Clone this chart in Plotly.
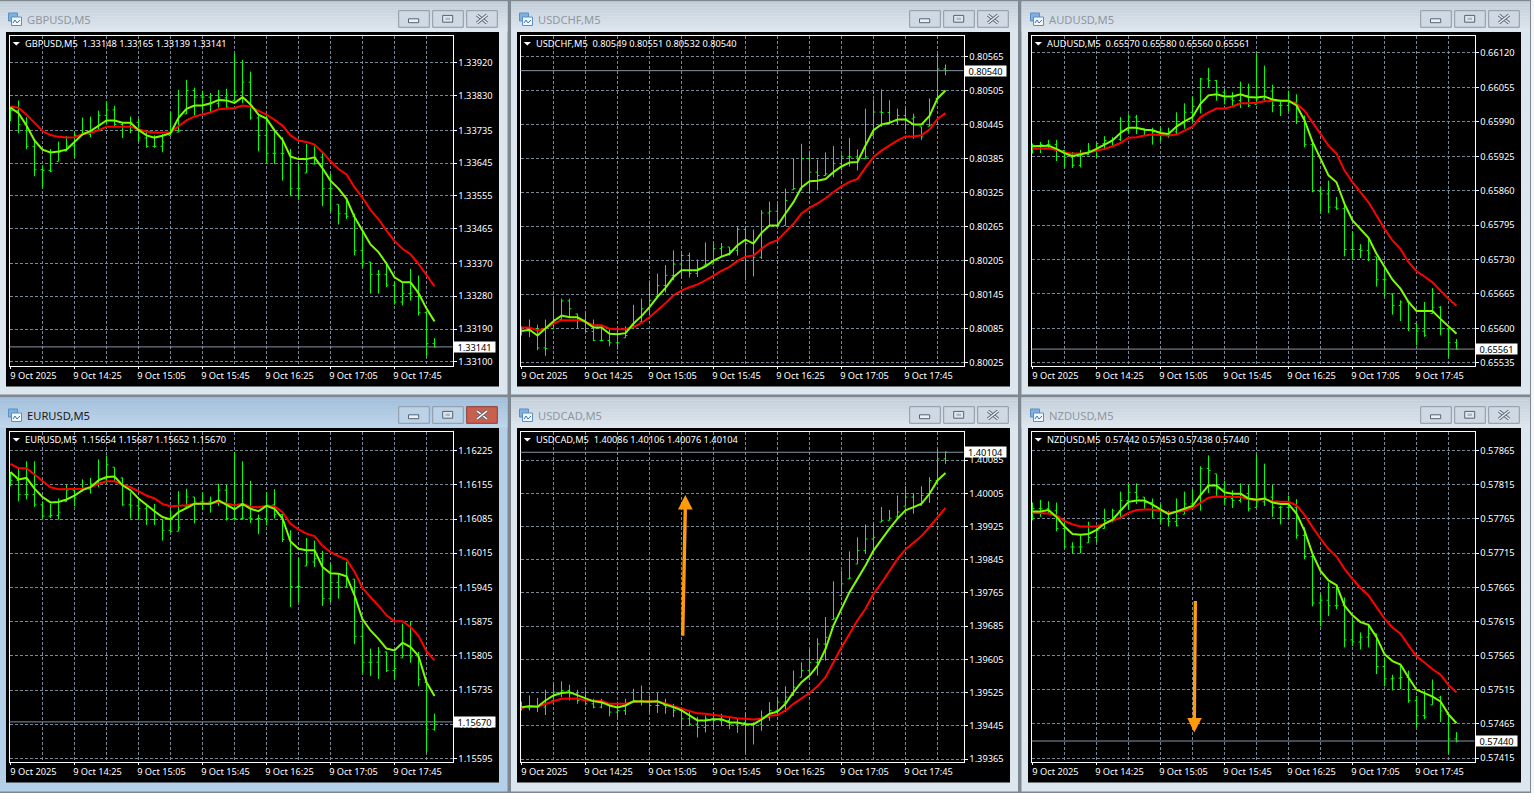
import plotly.graph_objects as go

# ---------- data: prices as 1e-5 units above each pair's base ----------
x_index = list(range(54))
x_tick_index = [0, 8, 16, 24, 32, 40, 48]
x_grid_index = [4, 12, 20, 28, 36, 44, 52]
x_tick_text = ["9 Oct 2025", "9 Oct 14:25", "9 Oct 15:05", "9 Oct 15:45", "9 Oct 16:25", "9 Oct 17:05", "9 Oct 17:45"]

gbp_fast = [33797,33782,33748,33707,33682,33674,33677,33682,33703,33724,33733,33748,33762,33762,33756,33756,33736,33721,33715,33720,33727,33769,33794,33803,33803,33809,33818,33817,33810,33826,33806,33778,33767,33735,33709,33663,33656,33656,33661,33631,33597,33575,33547,33497,33460,33422,33401,33369,33332,33318,33318,33289,33246,33211]
gbp_slow = [33800,33797,33778,33755,33733,33722,33717,33715,33716,33724,33728,33735,33745,33745,33745,33745,33738,33732,33729,33729,33729,33746,33762,33773,33778,33784,33793,33795,33796,33803,33800,33788,33778,33764,33748,33721,33707,33703,33696,33675,33650,33629,33614,33579,33550,33517,33491,33460,33431,33410,33395,33369,33337,33307]
gbp_high = [33800,33817,33771,33707,33639,33684,33704,33719,33730,33770,33773,33789,33813,33802,33757,33773,33767,33730,33721,33725,33785,33846,33873,33852,33844,33837,33846,33849,33945,33928,33896,33776,33776,33735,33716,33684,33643,33698,33691,33675,33616,33532,33547,33506,33460,33374,33352,33374,33319,33316,33355,33337,33236,33165]
gbp_low = [33760,33727,33683,33609,33576,33620,33650,33678,33660,33721,33716,33735,33751,33746,33714,33727,33703,33687,33687,33675,33721,33730,33780,33776,33789,33785,33797,33797,33817,33809,33764,33677,33643,33643,33597,33554,33544,33618,33641,33527,33511,33477,33492,33392,33360,33287,33287,33305,33257,33255,33268,33227,33115,33139]
gbp_close = [33789,33751,33691,33627,33625,33623,33675,33692,33721,33724,33730,33776,33791,33751,33746,33757,33714,33691,33691,33703,33730,33733,33844,33826,33826,33808,33824,33799,33840,33867,33769,33721,33672,33672,33671,33575,33575,33643,33661,33575,33575,33506,33499,33405,33374,33340,33340,33310,33264,33287,33289,33235,33150,33141]

chf_fast = [80081,80083,80073,80085,80098,80108,80105,80105,80097,80087,80087,80076,80075,80077,80094,80107,80123,80141,80157,80176,80188,80188,80188,80195,80205,80212,80217,80232,80242,80235,80254,80267,80267,80288,80308,80334,80345,80346,80349,80361,80371,80378,80379,80408,80435,80445,80448,80454,80454,80445,80445,80460,80491,80505]
chf_slow = [80087,80087,80082,80085,80094,80100,80100,80100,80097,80091,80091,80085,80084,80084,80088,80095,80105,80117,80130,80144,80152,80158,80163,80170,80179,80187,80194,80204,80212,80214,80226,80236,80241,80255,80270,80288,80298,80306,80315,80326,80336,80344,80349,80369,80388,80399,80408,80417,80424,80424,80426,80436,80455,80465]
chf_high = [80089,80101,80092,80101,80139,80138,80138,80111,80114,80101,80088,80085,80085,80089,80127,80138,80170,80182,80197,80223,80222,80219,80207,80237,80235,80236,80229,80266,80264,80260,80294,80309,80305,80332,80385,80411,80399,80383,80396,80407,80392,80421,80401,80473,80489,80507,80488,80473,80475,80464,80441,80491,80570,80551]
chf_low = [80073,80070,80047,80037,80085,80100,80104,80085,80079,80063,80063,80054,80048,80069,80085,80097,80108,80142,80149,80170,80173,80175,80176,80197,80199,80211,80214,80214,80170,80177,80208,80264,80264,80267,80330,80329,80324,80329,80355,80352,80364,80371,80364,80385,80426,80441,80445,80444,80435,80420,80418,80442,80491,80532]
chf_close = [80081,80085,80051,80050,80101,80134,80120,80100,80080,80064,80064,80060,80060,80073,80095,80120,80135,80161,80179,80199,80214,80182,80191,80199,80226,80229,80223,80260,80235,80211,80289,80292,80267,80311,80332,80385,80361,80355,80358,80376,80388,80388,80385,80388,80467,80466,80451,80461,80455,80458,80423,80444,80543,80540]

aud_fast = [65944,65944,65945,65939,65931,65925,65928,65932,65939,65947,65955,65969,65979,65979,65975,65974,65969,65967,65981,65991,65999,66024,66040,66042,66038,66038,66042,66037,66036,66038,66032,66030,66030,66021,65993,65952,65920,65889,65876,65835,65804,65787,65771,65741,65716,65692,65675,65650,65633,65633,65633,65618,65604,65590]
aud_slow = [65939,65940,65940,65937,65932,65930,65930,65932,65935,65939,65944,65950,65960,65961,65964,65966,65965,65964,65966,65974,65981,65999,66008,66015,66015,66019,66025,66025,66026,66029,66030,66030,66030,66024,66011,65989,65967,65945,65930,65898,65876,65857,65838,65813,65788,65766,65750,65725,65708,65698,65687,65671,65656,65643]
aud_high = [65949,65952,65956,65956,65936,65933,65937,65950,65950,65963,65961,65999,66004,66003,65977,65979,65981,65979,66008,66025,66038,66073,66092,66069,66052,66046,66066,66062,66118,66096,66060,66030,66049,66042,66002,65955,65867,65879,65848,65835,65782,65759,65771,65735,65713,65665,65653,65650,65609,65650,65676,65642,65601,65580]
aud_low = [65930,65931,65939,65916,65903,65903,65904,65928,65922,65937,65942,65954,65967,65967,65963,65947,65954,65960,65967,65977,65989,66006,66054,66030,66023,66018,66016,66018,66023,66030,66008,66001,66010,65986,65942,65857,65818,65818,65824,65736,65730,65733,65727,65679,65660,65626,65614,65595,65568,65584,65628,65587,65546,65560]
aud_close = [65944,65947,65947,65936,65923,65908,65927,65936,65949,65955,65957,65974,65999,65977,65974,65971,65964,65971,65986,66008,66019,66071,66068,66046,66033,66030,66040,66021,66033,66048,66021,66021,66027,65999,65947,65859,65854,65829,65826,65749,65749,65747,65742,65692,65692,65643,65650,65648,65595,65587,65640,65599,65573,65561]

eur_fast = [16181,16166,16169,16147,16130,16119,16120,16125,16133,16144,16150,16164,16171,16172,16154,16144,16127,16113,16101,16089,16084,16099,16107,16116,16116,16116,16123,16114,16105,16116,16106,16101,16112,16106,16086,16039,16024,16021,16021,15987,15974,15973,15968,15929,15880,15857,15840,15820,15816,15832,15823,15805,15751,15723]
eur_slow = [16198,16189,16189,16176,16162,16150,16146,16146,16146,16147,16150,16157,16162,16162,16155,16150,16142,16133,16127,16116,16111,16112,16113,16116,16116,16116,16120,16116,16113,16116,16110,16109,16112,16111,16099,16075,16064,16055,16050,16030,16017,16009,16002,15977,15944,15925,15908,15888,15876,15876,15864,15846,15814,15796]
eur_high = [16181,16191,16203,16203,16121,16116,16127,16155,16147,16166,16169,16207,16215,16191,16170,16140,16128,16113,16116,16084,16103,16142,16147,16130,16139,16131,16157,16155,16222,16203,16163,16094,16139,16146,16096,16062,16006,16046,16041,16020,15994,15973,15997,15962,15871,15820,15823,15814,15813,15871,15876,15813,15751,15687]
eur_low = [16152,16121,16125,16110,16086,16087,16084,16121,16111,16142,16137,16150,16157,16162,16112,16086,16084,16073,16073,16041,16057,16060,16110,16076,16103,16098,16112,16082,16082,16084,16077,16054,16072,16086,16038,15905,15915,15989,15987,15907,15915,15922,15944,15829,15769,15764,15758,15772,15757,15801,15791,15743,15608,15652]
eur_close = [16164,16135,16135,16114,16091,16092,16099,16144,16128,16146,16157,16167,16196,16169,16114,16112,16106,16084,16084,16062,16060,16067,16130,16120,16120,16118,16144,16086,16086,16087,16086,16086,16114,16094,16043,15947,15947,15997,16004,15922,15955,15946,15966,15845,15792,15792,15813,15775,15779,15806,15803,15757,15655,15670]

cad_fast = [39490,39492,39491,39506,39518,39524,39526,39519,39512,39504,39502,39494,39489,39494,39504,39503,39503,39504,39496,39490,39482,39470,39458,39458,39461,39461,39453,39453,39449,39449,39460,39474,39479,39498,39526,39550,39566,39590,39630,39687,39727,39767,39799,39831,39867,39895,39920,39944,39964,39972,39980,40004,40036,40054]
cad_slow = [39488,39492,39491,39498,39504,39510,39511,39511,39506,39506,39505,39498,39498,39498,39503,39504,39504,39503,39499,39492,39486,39480,39475,39474,39471,39468,39466,39463,39462,39460,39462,39469,39471,39482,39498,39511,39524,39540,39562,39598,39634,39666,39699,39727,39763,39789,39817,39847,39870,39887,39902,39924,39948,39970]
cad_high = [39503,39518,39512,39532,39548,39552,39544,39532,39530,39510,39510,39498,39503,39510,39534,39542,39518,39524,39510,39498,39486,39478,39466,39470,39470,39474,39466,39462,39474,39453,39482,39502,39515,39540,39578,39598,39632,39656,39707,39793,39819,39865,39899,39930,39936,39972,39965,40000,40022,40006,40022,40044,40110,40106]
cad_low = [39482,39482,39478,39471,39506,39514,39506,39498,39494,39487,39487,39468,39466,39471,39502,39494,39474,39476,39474,39466,39441,39445,39417,39429,39437,39444,39437,39428,39381,39400,39433,39457,39470,39478,39518,39562,39566,39566,39602,39701,39759,39799,39835,39859,39863,39936,39940,39948,39974,39956,39976,39982,40036,40076]
cad_close = [39488,39492,39490,39498,39526,39530,39522,39506,39498,39490,39498,39478,39482,39498,39506,39506,39494,39494,39490,39482,39462,39449,39441,39462,39458,39458,39449,39453,39449,39449,39466,39482,39502,39514,39538,39578,39598,39642,39658,39704,39787,39801,39867,39895,39899,39940,39945,39960,39996,39972,40000,40036,40088,40104]

nzd_fast = [57776,57776,57778,57768,57754,57743,57742,57743,57749,57758,57764,57777,57790,57792,57792,57786,57779,57772,57776,57780,57784,57800,57814,57814,57804,57802,57802,57795,57793,57795,57789,57787,57787,57773,57748,57714,57689,57675,57668,57638,57624,57614,57610,57592,57567,57557,57552,57533,57515,57510,57505,57498,57479,57466]
nzd_slow = [57774,57774,57773,57770,57762,57757,57754,57754,57754,57758,57762,57767,57774,57778,57779,57779,57777,57774,57775,57777,57781,57789,57796,57798,57798,57797,57797,57794,57793,57794,57791,57790,57790,57785,57771,57753,57736,57721,57710,57692,57677,57664,57653,57636,57619,57606,57597,57580,57564,57555,57545,57537,57522,57511]
nzd_high = [57789,57793,57791,57789,57765,57731,57741,57761,57751,57780,57780,57805,57817,57817,57797,57795,57787,57777,57795,57805,57808,57842,57858,57831,57821,57807,57817,57815,57859,57846,57815,57784,57799,57794,57753,57716,57655,57672,57667,57650,57619,57599,57609,57597,57562,57537,57550,57543,57506,57514,57530,57506,57479,57453]
nzd_low = [57763,57768,57773,57747,57722,57714,57715,57730,57731,57751,57760,57765,57778,57787,57780,57766,57758,57754,57754,57772,57781,57777,57803,57797,57785,57781,57789,57776,57782,57784,57768,57757,57766,57736,57706,57637,57608,57623,57633,57577,57579,57574,57577,57538,57520,57514,57516,57496,57459,57472,57493,57468,57422,57438]
nzd_close = [57780,57780,57777,57751,57724,57724,57724,57738,57748,57763,57777,57792,57804,57797,57789,57777,57765,57761,57755,57787,57787,57839,57836,57809,57795,57792,57802,57780,57790,57797,57782,57782,57782,57741,57710,57642,57646,57638,57638,57588,57585,57592,57597,57549,57531,57532,57533,57499,57477,57475,57504,57484,57443,57440]

gbp_ticks = ["1.33920","1.33830","1.33735","1.33645","1.33555","1.33465","1.33370","1.33280","1.33190","1.33100"]
chf_ticks = ["0.80565","0.80505","0.80445","0.80385","0.80325","0.80265","0.80205","0.80145","0.80085","0.80025"]
aud_ticks = ["0.66120","0.66055","0.65990","0.65925","0.65860","0.65795","0.65730","0.65665","0.65600","0.65535"]
eur_ticks = ["1.16225","1.16155","1.16085","1.16015","1.15945","1.15875","1.15805","1.15735","1.15665","1.15595"]
cad_ticks = ["1.40085","1.40005","1.39925","1.39845","1.39765","1.39685","1.39605","1.39525","1.39445","1.39365"]
nzd_ticks = ["0.57865","0.57815","0.57765","0.57715","0.57665","0.57615","0.57565","0.57515","0.57465","0.57415"]

gbp_head = "GBPUSD,M5\u00a0\u00a01.33148 1.33165 1.33139 1.33141"
chf_head = "USDCHF,M5\u00a0\u00a00.80549 0.80551 0.80532 0.80540"
aud_head = "AUDUSD,M5\u00a0\u00a00.65570 0.65580 0.65560 0.65561"
eur_head = "EURUSD,M5\u00a0\u00a01.15654 1.15687 1.15652 1.15670"
cad_head = "USDCAD,M5\u00a0\u00a01.40086 1.40106 1.40076 1.40104"
nzd_head = "NZDUSD,M5\u00a0\u00a00.57442 0.57453 0.57438 0.57440"

W, H = 1534, 793
FONT = "Noto Sans"
GRID = "#778899"
TXT = 9.25

# (title, base, fast, slow, high, low, close, ticks, header, last, price range, dx, dy, active)
panels = [
    ("GBPUSD,M5", 1.0, gbp_fast, gbp_slow, gbp_high, gbp_low, gbp_close, gbp_ticks, gbp_head, "1.33141", (33090, 33995), 0, 0, False),
    ("USDCHF,M5", 0.0, chf_fast, chf_slow, chf_high, chf_low, chf_close, chf_ticks, chf_head, "0.80540", (80020, 80602), 511, 0, False),
    ("AUDUSD,M5", 0.0, aud_fast, aud_slow, aud_high, aud_low, aud_close, aud_ticks, aud_head, "0.65561", (65530, 66153), 1022, 0, False),
    ("EURUSD,M5", 1.0, eur_fast, eur_slow, eur_high, eur_low, eur_close, eur_ticks, eur_head, "1.15670", (15589, 16264), 0, 396, True),
    ("USDCAD,M5", 1.0, cad_fast, cad_slow, cad_high, cad_low, cad_close, cad_ticks, cad_head, "1.40104", (39359, 40154), 511, 396, False),
    ("NZDUSD,M5", 0.0, nzd_fast, nzd_slow, nzd_high, nzd_low, nzd_close, nzd_ticks, nzd_head, "0.57440", (57410, 57893), 1022, 396, False),
]
window_edges = [(0, 507.5), (511, 1018), (1021.5, 1530)]


def fx(x):
    return x / W


def fy(y):
    return 1 - y / H


def rect(x0, y0, x1, y1, fill, line=None, lw=1):
    return dict(type="rect", xref="paper", yref="paper", layer="below",
                x0=fx(x0), x1=fx(x1), y0=fy(y0), y1=fy(y1), fillcolor=fill,
                line=dict(color=line or fill, width=lw if line else 0))


def poly(points, fill):
    d = "M" + " L".join(f"{fx(a):.5f},{fy(b):.5f}" for a, b in points) + " Z"
    return dict(type="path", path=d, xref="paper", yref="paper", fillcolor=fill, line=dict(width=0))


def seg(x0, y0, x1, y1, color, lw):
    return dict(type="line", xref="paper", yref="paper", layer="above",
                x0=fx(x0), x1=fx(x1), y0=fy(y0), y1=fy(y1), line=dict(color=color, width=lw))


def mix(c0, c1, t):
    a = [int(c0[i:i + 2], 16) for i in (1, 3, 5)]
    b = [int(c1[i:i + 2], 16) for i in (1, 3, 5)]
    return "#" + "".join(f"{round(p + (q - p) * t):02x}" for p, q in zip(a, b))


fig = go.Figure()
shapes, annos = [], []
layout_axes = {}
shapes.append(rect(1531, 0, 1534, 793, "#f4f6f8"))

for n, (title, base, fast, slow, high, low, close, ticks, head, last, yr, dx, dy, active) in enumerate(panels, start=1):
    col = (n - 1) % 3
    x_left, x_right = window_edges[col]
    win_top = 1.5 + dy
    win_bot = 394.5 + dy if dy == 0 else 791.5

    # window chrome
    body = "#b4d0e8" if active else "#dce6ef"
    shapes.append(rect(x_left, win_top, x_right, win_bot, body))
    top_c, bot_c = ("#a3bfdb", "#bed5ea") if active else ("#c4cfda", "#dde5ed")
    for s in range(10):
        shapes.append(rect(x_left, win_top + s * 3, x_right, win_top + (s + 1) * 3,
                           mix(top_c, bot_c, s / 9)))
    shapes.append(rect(6 + dx, 32 + dy, 499 + dx, 386.5 + dy, "#000000"))

    btn_y0, btn_y1 = 10.7 + dy, 27.3 + dy
    for b, bx in enumerate((398.7, 432.7, 466.7)):
        fill = "#c8604f" if (active and b == 2) else ("#bcd2e6" if active else "#cfd9e3")
        shapes.append(rect(bx + dx, btn_y0, bx + 30.6 + dx, btn_y1, fill, "#8d98a4" if not (active and b == 2) else "#8a3a32", 1))
    shapes.append(rect(408.5 + dx, 18.8 + dy, 418.7 + dx, 22.7 + dy, "#eaf0f5", "#566370", 1))
    shapes.append(rect(442.7 + dx, 15.4 + dy, 452.7 + dx, 22.2 + dy, "#dfe7ee", "#566370", 1))
    shapes.append(rect(445.5 + dx, 17.6 + dy, 450 + dx, 20 + dy, "#aeb9c4"))
    for a, b in (((477, 15), (487, 23)), ((487, 15), (477, 23))):
        shapes.append(seg(a[0] + dx, a[1] + dy, b[0] + dx, b[1] + dy, "#5f6a76", 3.4))
        shapes.append(seg(a[0] + dx, a[1] + dy, b[0] + dx, b[1] + dy, "#ffffff" if active else "#e8eef3", 1.6))

    # window icon
    shapes.append(rect(8.5 + dx, 13 + dy, 17.5 + dx, 21 + dy, "#7fb0e0", "#5b8ec4", 1))
    shapes.append(rect(11.5 + dx, 17 + dy, 21.5 + dx, 25.5 + dy, "#f2f7fc", "#5b8ec4", 1))
    shapes.append(seg(13 + dx, 23 + dy, 15 + dx, 20 + dy, "#3c78b8", 1))
    shapes.append(seg(15 + dx, 20 + dy, 17 + dx, 23 + dy, "#3c78b8", 1))
    shapes.append(seg(17 + dx, 23 + dy, 20 + dx, 20 + dy, "#3c78b8", 1))

    annos.append(dict(xref="paper", yref="paper", x=fx(25 + dx), y=fy(19.7 + dy), xanchor="left", yanchor="middle",
                      text=title, showarrow=False,
                      font=dict(family=FONT, size=11.2, color="#1a1a1a" if active else "#8f979f")))

    # axes
    ax = "" if n == 1 else str(n)
    fr_l, fr_r = 9.5 + dx, 452.5 + dx
    fr_t, fr_b = 35.5 + dy, 365.5 + dy
    to_price = lambda v: base + v / 1e5
    layout_axes[f"xaxis{ax}"] = dict(
        domain=[fx(fr_l), fx(fr_r)], range=[-0.125, 55.25], anchor=f"y{ax}", rangeslider=dict(visible=False),
        tickmode="array", tickvals=x_tick_index, ticktext=x_tick_text, ticklabelshift=23, ticklabelstandoff=-1,
        ticks="outside", ticklen=2, tickcolor="#ffffff", tickwidth=1,
        tickfont=dict(family=FONT, size=TXT, color="#ffffff"),
        showline=True, mirror=True, linecolor="#ffffff", linewidth=1, zeroline=False,
        showgrid=True, gridcolor=GRID, griddash="3px,2px", gridwidth=1,
        minor=dict(tickmode="array", tickvals=x_grid_index, ticks="", showgrid=True,
                   gridcolor=GRID, griddash="3px,2px", gridwidth=1),
    )
    layout_axes[f"yaxis{ax}"] = dict(
        domain=[fy(fr_b), fy(fr_t)], range=[to_price(yr[0]), to_price(yr[1])], anchor=f"x{ax}", side="right",
        tickmode="array", tickvals=[float(t) for t in ticks], ticktext=ticks,
        ticks="outside", ticklen=3, tickcolor="#ffffff", tickwidth=1,
        tickfont=dict(family=FONT, size=TXT, color="#ffffff"),
        showline=True, mirror=True, linecolor="#ffffff", linewidth=1, zeroline=False,
        showgrid=True, gridcolor=GRID, griddash="3px,2px", gridwidth=1,
    )

    # bars and moving averages
    opens = []
    for i in range(len(close)):
        prev = close[i - 1] if i else close[0]
        opens.append(min(max(prev, low[i]), high[i]))
    fig.add_trace(go.Ohlc(
        x=x_index, open=[to_price(v) for v in opens], high=[to_price(v) for v in high],
        low=[to_price(v) for v in low], close=[to_price(v) for v in close],
        increasing=dict(line=dict(color="#00ff00", width=1)), decreasing=dict(line=dict(color="#00ff00", width=1)),
        tickwidth=0.24, xaxis=f"x{ax}", yaxis=f"y{ax}", showlegend=False, hoverinfo="skip"))
    fig.add_trace(go.Scatter(x=x_index, y=[to_price(v) for v in slow], mode="lines",
                             line=dict(color="#ff0000", width=2), xaxis=f"x{ax}", yaxis=f"y{ax}",
                             showlegend=False, hoverinfo="skip"))
    fig.add_trace(go.Scatter(x=x_index, y=[to_price(v) for v in fast], mode="lines",
                             line=dict(color="#7cfc00", width=2), xaxis=f"x{ax}", yaxis=f"y{ax}",
                             showlegend=False, hoverinfo="skip"))

    # current-price line and label
    shapes.append(dict(type="line", xref=f"x{ax} domain", yref=f"y{ax}", x0=0, x1=1, y0=float(last), y1=float(last),
                       line=dict(color="#8794a3", width=1)))
    annos.append(dict(xref="paper", yref=f"y{ax}", x=fx(474.7 + dx), y=float(last), xanchor="center", yanchor="middle",
                      text=last, showarrow=False, bgcolor="#ffffff", width=41, height=10, borderpad=0,
                      font=dict(family=FONT, size=TXT, color="#000000")))

    # chart header
    shapes.append(poly([(12.7 + dx, 42 + dy), (20 + dx, 42 + dy), (16.3 + dx, 45.5 + dy)], "#ffffff"))
    annos.append(dict(xref="paper", yref="paper", x=fx(23.3 + dx), y=fy(43.7 + dy), xanchor="left", yanchor="middle",
                      text=head, showarrow=False, font=dict(family=FONT, size=TXT, color="#ffffff")))

# orange hand-drawn arrows
ORANGE = "#ff9a0a"
shapes.append(poly([(681, 635.7), (684.4, 635.7), (687, 509), (683.6, 509)], ORANGE))
shapes.append(poly([(678, 509.5), (692.7, 509.5), (685.3, 495)], ORANGE))
shapes.append(poly([(1193.7, 601), (1197, 601), (1196, 718), (1192.7, 718)], ORANGE))
shapes.append(poly([(1187.3, 718), (1201.8, 718), (1194.3, 732.5)], ORANGE))

fig.update_layout(
    width=W, height=H, margin=dict(l=0, r=0, t=0, b=0, pad=0, autoexpand=False), autosize=False,
    paper_bgcolor="#7f8790", plot_bgcolor="#000000", showlegend=False,
    shapes=shapes, annotations=annos, **layout_axes,
)
PAGE_CSS = ("html,body{margin:0;padding:0;height:793px;overflow:hidden;line-height:0;font-size:0}"
            ".js-plotly-plot,.plot-container,.svg-container{display:block}")
fig.write_html("out.html", config={"displayModeBar": False},
               post_script="var s=document.createElement('style');s.textContent='" + PAGE_CSS + "';document.head.appendChild(s);")
